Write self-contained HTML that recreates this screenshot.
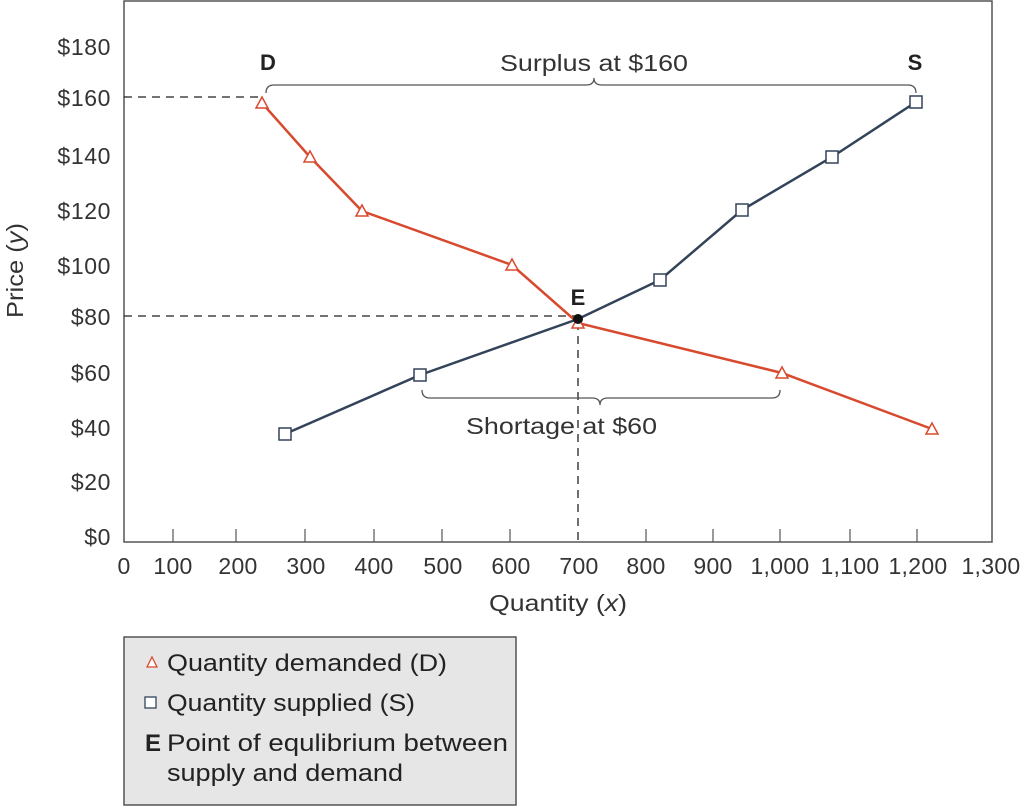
<!DOCTYPE html>
<html><head><meta charset="utf-8"><style>
html,body{margin:0;padding:0;background:#fff;}
svg{display:block;font-family:"Liberation Sans",sans-serif;}
</style></head><body>
<svg width="1024" height="806" viewBox="0 0 1024 806">
<rect x="124" y="1" width="868" height="541" fill="none" stroke="#555" stroke-width="1.5"/>
<g stroke="#555" stroke-width="1.2">
<line x1="173" y1="529" x2="173" y2="542"/><line x1="236" y1="529" x2="236" y2="542"/>
<line x1="305" y1="529" x2="305" y2="542"/><line x1="374" y1="529" x2="374" y2="542"/>
<line x1="442" y1="529" x2="442" y2="542"/><line x1="510" y1="529" x2="510" y2="542"/>
<line x1="646" y1="529" x2="646" y2="542"/><line x1="713" y1="529" x2="713" y2="542"/>
<line x1="780" y1="529" x2="780" y2="542"/><line x1="850" y1="529" x2="850" y2="542"/>
<line x1="917" y1="529" x2="917" y2="542"/>
</g>
<g font-size="23" fill="#333" text-anchor="end" letter-spacing="0.6">
<text x="111" y="55">$180</text><text x="111" y="106">$160</text><text x="111" y="164">$140</text>
<text x="111" y="219">$120</text><text x="111" y="274">$100</text><text x="111" y="325">$80</text>
<text x="111" y="381">$60</text><text x="111" y="436">$40</text><text x="111" y="490">$20</text>
<text x="111" y="545">$0</text>
</g>
<g font-size="23" fill="#333" text-anchor="middle" letter-spacing="0.3">
<text x="124" y="574">0</text><text x="173" y="574">100</text><text x="238" y="574">200</text>
<text x="306" y="574">300</text><text x="374" y="574">400</text><text x="443" y="574">500</text>
<text x="511" y="574">600</text><text x="579" y="574">700</text><text x="646" y="574">800</text>
<text x="713" y="574">900</text><text x="780" y="574">1,000</text><text x="850" y="574">1,100</text>
<text x="918" y="574">1,200</text><text x="991" y="574">1,300</text>
</g>
<g font-size="23" fill="#333">
<text x="489" y="611" textLength="138" lengthAdjust="spacingAndGlyphs">Quantity (<tspan font-style="italic">x</tspan>)</text>
<text transform="translate(23,318) rotate(-90)" textLength="95" lengthAdjust="spacingAndGlyphs">Price (<tspan font-style="italic">y</tspan>)</text>
</g>
<g stroke="#222" stroke-width="1.3" stroke-dasharray="8,6" fill="none">
<line x1="124" y1="97" x2="258" y2="97"/>
<line x1="124" y1="316" x2="576" y2="316"/>
<line x1="578" y1="322" x2="578" y2="542"/>
</g>
<g fill="none" stroke="#555" stroke-width="1.3">
<path d="M266,93 q0,-8 8,-8 H586 q8,0 8,-7 q0,7 8,7 H908 q8,0 8,8"/>
<path d="M422,390 q0,8 8,8 H592 q8,0 8,7 q0,-7 8,-7 H772 q8,0 8,-8"/>
</g>
<polyline points="262,103 310,157 362,211 512,265 578,323 782,373 932,429" fill="none" stroke="#d84a2e" stroke-width="2.5"/>
<polyline points="285,434 420,375 578,319 660,280 742,210 832,157 916,102" fill="none" stroke="#33435a" stroke-width="2.5"/>
<g fill="#fff" stroke="#d84a2e" stroke-width="1.5">
<path d="M262,97 l6,11 h-12z"/><path d="M310,151 l6,11 h-12z"/><path d="M362,205 l6,11 h-12z"/>
<path d="M512,259 l6,11 h-12z"/><path d="M578,317 l6,11 h-12z"/><path d="M782,367 l6,11 h-12z"/>
<path d="M932,423 l6,11 h-12z"/>
</g>
<g fill="#fff" stroke="#33435a" stroke-width="1.5">
<rect x="279" y="428" width="12" height="12"/><rect x="414" y="369" width="12" height="12"/>
<rect x="654" y="274" width="12" height="12"/><rect x="736" y="204" width="12" height="12"/>
<rect x="826" y="151" width="12" height="12"/><rect x="910" y="96" width="12" height="12"/>
</g>
<circle cx="578" cy="319" r="5" fill="#111"/>
<g font-size="22" font-weight="bold" fill="#222" text-anchor="middle">
<text x="268" y="70">D</text><text x="915" y="70">S</text><text x="578" y="305">E</text>
</g>
<g font-size="23" fill="#333">
<text x="500" y="71" textLength="188" lengthAdjust="spacingAndGlyphs">Surplus at $160</text>
<text x="466" y="434" textLength="191" lengthAdjust="spacingAndGlyphs">Shortage at $60</text>
</g>
<rect x="124" y="637" width="392" height="168" fill="#e6e6e6" stroke="#555" stroke-width="1.5"/>
<path d="M152,657 l5,10 h-10z" fill="#fff" stroke="#d84a2e" stroke-width="1.3"/>
<rect x="145" y="697" width="11" height="11" fill="#fff" stroke="#33435a" stroke-width="1.3"/>
<g font-size="24" fill="#222">
<text x="167" y="671" textLength="280" lengthAdjust="spacingAndGlyphs">Quantity demanded (D)</text>
<text x="167" y="711" textLength="248" lengthAdjust="spacingAndGlyphs">Quantity supplied (S)</text>
<text x="145" y="751" font-weight="bold">E</text>
<text x="167" y="751" textLength="341" lengthAdjust="spacingAndGlyphs">Point of equlibrium between</text>
<text x="167" y="781" textLength="236" lengthAdjust="spacingAndGlyphs">supply and demand</text>
</g>
</svg>
</body></html>
